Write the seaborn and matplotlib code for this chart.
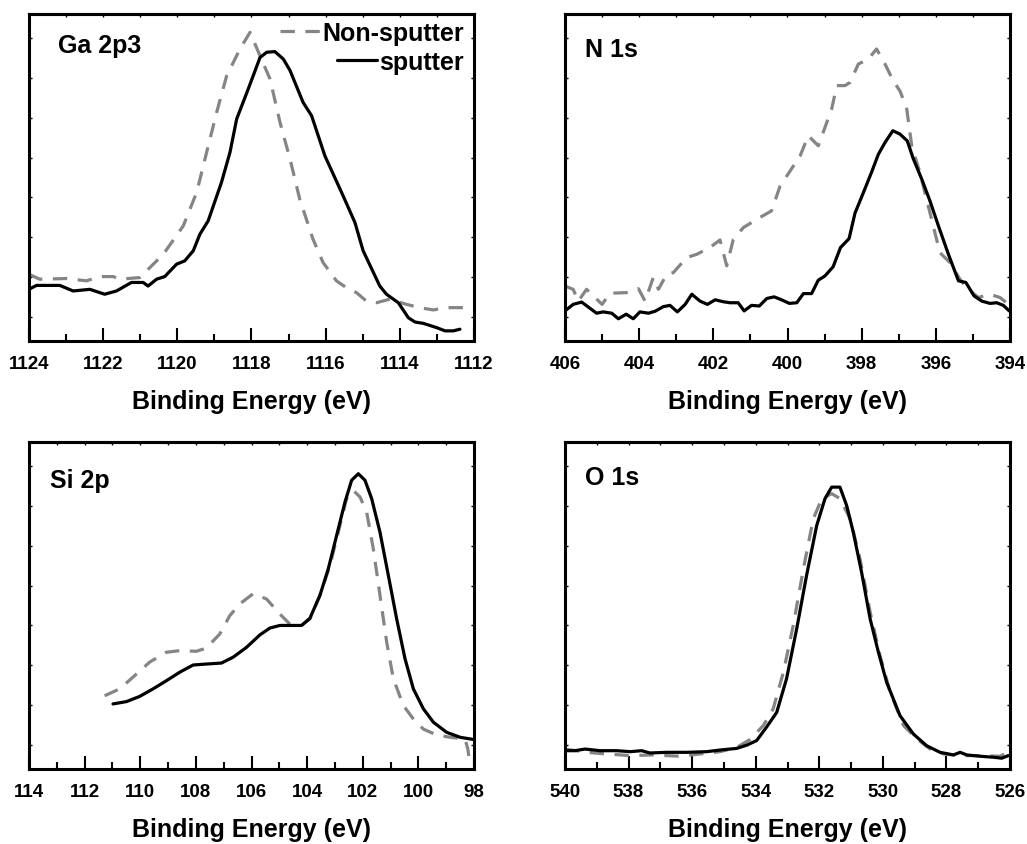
import numpy as np
import pandas as pd
import matplotlib
matplotlib.use("Agg")
import matplotlib.pyplot as plt
import seaborn as sns
from matplotlib.ticker import MultipleLocator
from matplotlib.lines import Line2D

# ---------------- data ----------------
ga_sp_x = [1124.00, 1123.80, 1123.17, 1122.81, 1122.36, 1121.96, 1121.64, 1121.24, 1120.92, 1120.79,
           1120.56, 1120.34, 1120.02, 1119.80, 1119.57, 1119.39, 1119.17, 1118.81, 1118.58, 1118.40,
           1118.09, 1117.77, 1117.59, 1117.37, 1117.14, 1116.96, 1116.61, 1116.38, 1116.02, 1115.53,
           1115.21, 1114.99, 1114.54, 1114.36, 1114.04, 1113.77, 1113.59, 1113.37, 1113.01, 1112.78,
           1112.56, 1112.38]
ga_sp_y = [15.8, 17.0, 17.0, 15.3, 15.8, 14.3, 15.3, 17.9, 17.9, 16.8,
           18.9, 19.7, 23.5, 24.5, 27.6, 32.7, 36.7, 48.5, 57.7, 67.9,
           77.0, 86.7, 88.3, 88.5, 86.2, 82.7, 73.0, 68.9, 56.6, 44.4,
           36.2, 27.6, 16.8, 14.3, 11.7, 7.1, 5.8, 5.4, 4.1, 3.1,
           3.1, 3.6]
ga_ns_x = [1124.00, 1123.71, 1122.99, 1122.45, 1122.09, 1121.73, 1121.55, 1121.01, 1120.79, 1120.38,
           1119.84, 1119.48, 1119.21, 1118.94, 1118.67, 1118.31, 1118.04, 1117.77, 1117.50, 1117.23,
           1116.96, 1116.70, 1116.34, 1116.07, 1115.71, 1115.44, 1115.17, 1114.90, 1114.63, 1114.27,
           1113.82, 1113.46, 1113.10, 1112.74, 1112.11]
ga_ns_y = [20.4, 18.9, 19.1, 18.4, 19.7, 19.7, 18.9, 19.4, 21.9, 26.5,
           35.2, 45.4, 57.7, 69.9, 81.1, 89.3, 94.4, 87.2, 80.1, 66.8,
           55.6, 43.4, 31.1, 24.0, 18.4, 16.3, 14.8, 12.2, 11.7, 12.8,
           11.2, 10.2, 9.5, 10.2, 10.2]

n_sp_x = [406.00, 405.78, 405.55, 405.15, 404.97, 404.74, 404.56, 404.35, 404.16, 403.98,
          403.75, 403.57, 403.35, 403.17, 402.97, 402.76, 402.58, 402.36, 402.16, 401.95,
          401.73, 401.55, 401.33, 401.17, 400.97, 400.76, 400.56, 400.36, 400.16, 399.95,
          399.75, 399.57, 399.35, 399.17, 398.99, 398.77, 398.57, 398.34, 398.18, 397.96,
          397.73, 397.55, 397.37, 397.16, 396.97, 396.77, 396.61, 396.38, 396.16, 395.93,
          395.66, 395.39, 395.19, 394.97, 394.76, 394.54, 394.36, 394.18, 394.02]
n_sp_y = [9.2, 11.2, 11.9, 8.5, 8.9, 8.5, 6.8, 8.2, 6.8, 8.9,
          8.5, 9.1, 10.5, 10.9, 8.9, 11.2, 14.3, 12.2, 11.2, 12.6,
          12.0, 11.7, 11.7, 9.2, 10.9, 10.7, 13.0, 13.5, 12.6, 11.5,
          11.7, 14.5, 14.5, 18.6, 19.9, 22.7, 28.6, 31.3, 39.1, 45.2,
          51.7, 57.1, 60.7, 64.3, 63.3, 61.2, 55.8, 49.5, 42.9, 35.2,
          26.5, 18.4, 17.9, 13.8, 12.2, 11.5, 11.7, 10.9, 9.2]
n_ns_x = [406.00, 405.78, 405.64, 405.42, 405.00, 404.79, 404.34, 404.02, 403.84, 403.62,
          403.48, 403.26, 403.08, 402.72, 402.45, 402.09, 401.82, 401.64, 401.46, 401.19,
          400.74, 400.43, 400.20, 399.93, 399.66, 399.44, 399.17, 398.81, 398.67, 398.45,
          398.31, 398.09, 397.82, 397.60, 397.37, 397.15, 396.97, 396.79, 396.65, 396.43,
          396.16, 395.89, 395.62, 395.35, 395.13, 394.85, 394.54, 394.27, 394.04]
n_ns_y = [16.8, 15.8, 12.2, 15.8, 11.2, 14.6, 14.8, 16.0, 12.2, 19.4,
          15.8, 20.4, 20.9, 25.5, 26.5, 28.6, 30.9, 23.0, 31.1, 34.7,
          37.8, 39.8, 47.4, 52.0, 56.6, 62.8, 59.7, 70.9, 78.1, 78.1,
          79.1, 84.7, 86.2, 89.3, 84.7, 79.6, 76.5, 71.4, 59.7, 51.5,
          39.3, 27.0, 24.0, 18.9, 15.8, 13.3, 14.3, 13.3, 11.2]

si_sp_x = [110.98, 110.50, 110.02, 109.54, 109.06, 108.58, 108.10, 107.62, 107.08, 106.66,
           106.18, 105.70, 105.34, 104.98, 104.50, 104.20, 103.90, 103.54, 103.24, 102.94,
           102.64, 102.40, 102.16, 101.92, 101.68, 101.38, 101.08, 100.78, 100.48, 100.18,
           99.82, 99.46, 98.98, 98.50, 98.00]
si_sp_y = [19.9, 20.6, 22.2, 24.5, 27.0, 29.6, 31.8, 32.1, 32.4, 34.2,
           37.2, 41.0, 43.1, 43.9, 43.9, 43.9, 46.1, 53.1, 61.2, 71.4,
           81.6, 88.3, 90.3, 88.3, 82.7, 72.4, 59.2, 45.9, 33.7, 24.5,
           18.4, 14.3, 11.2, 9.7, 9.0]
si_ns_x = [111.28, 110.74, 110.26, 109.66, 109.06, 108.58, 107.98, 107.62, 107.14, 106.78,
           106.42, 105.94, 105.46, 104.98, 104.62, 104.20, 103.90, 103.54, 103.18, 102.88,
           102.58, 102.34, 102.10, 101.86, 101.62, 101.38, 101.14, 100.90, 100.54, 100.18,
           99.82, 99.34, 98.86, 98.32, 98.22, 98.18]
si_ns_y = [22.4, 24.5, 28.1, 32.7, 35.7, 36.2, 36.0, 37.0, 41.3, 46.9,
           50.5, 53.6, 52.0, 47.4, 44.3, 43.9, 45.9, 53.1, 62.2, 72.4,
           82.7, 85.2, 83.2, 78.6, 67.3, 53.1, 38.8, 27.6, 19.4, 15.3,
           12.2, 10.4, 9.7, 9.2, 6.0, 3.5]

o_sp_x = [540.00, 539.69, 539.37, 538.90, 538.37, 537.95, 537.59, 537.33, 536.80, 536.17,
          535.54, 535.12, 534.60, 534.28, 533.97, 533.66, 533.34, 533.03, 532.71, 532.40,
          532.08, 531.82, 531.61, 531.35, 531.14, 530.93, 530.67, 530.40, 530.14, 529.88,
          529.46, 529.04, 528.62, 528.20, 527.78, 527.57, 527.36, 526.94, 526.52, 526.26,
          526.05]
o_sp_y = [5.6, 5.6, 6.1, 5.6, 5.6, 5.3, 5.6, 4.9, 5.1, 5.1,
          5.3, 5.8, 6.3, 7.3, 8.7, 12.8, 17.3, 27.6, 42.9, 59.2,
          74.5, 82.7, 86.2, 86.2, 80.6, 72.4, 60.2, 45.9, 35.7, 26.5,
          16.3, 10.7, 7.1, 5.1, 4.3, 5.1, 4.3, 3.9, 3.6, 3.3,
          4.1]
o_ns_x = [540.00, 539.32, 538.69, 537.95, 537.22, 536.38, 535.75, 535.12, 534.60, 534.18,
          533.76, 533.45, 533.13, 532.82, 532.50, 532.19, 531.92, 531.61, 531.35, 531.03,
          530.72, 530.40, 530.09, 529.77, 529.35, 528.93, 528.51, 528.09, 527.57, 526.94,
          526.32, 526.05]
o_ns_y = [6.1, 5.1, 4.6, 4.1, 4.3, 3.9, 4.6, 5.3, 6.6, 9.0,
          13.3, 18.4, 29.6, 43.9, 61.2, 76.5, 82.7, 84.2, 82.7, 76.5,
          64.3, 48.0, 34.7, 23.5, 13.3, 9.2, 6.1, 4.6, 4.1, 4.1,
          3.9, 5.1]

panel_names = ["Ga 2p3", "N 1s", "Si 2p", "O 1s"]
panel_xlims = [(1124, 1112), (406, 394), (114, 98), (540, 526)]
legend_labels = ["Non-sputter", "sputter"]
xlabel_text = "Binding Energy (eV)"

# ---------------- style ----------------
sns.set_style("ticks")
plt.rcParams["font.family"] = ["Liberation Sans", "DejaVu Sans"]
plt.rcParams["font.weight"] = "bold"
plt.rcParams["axes.labelweight"] = "bold"
plt.rcParams["text.color"] = "black"
plt.rcParams["axes.labelcolor"] = "black"
plt.rcParams["xtick.color"] = "black"
plt.rcParams["ytick.color"] = "black"
plt.rcParams["xtick.labelcolor"] = "black"
plt.rcParams["axes.edgecolor"] = "black"

GRAY = "#858585"
DASH = (0, (4.5, 3.3))
LW = 2.3

W, H = 1027, 845
aw, ah = 445, 327
corners = [(29, 15), (565, 15), (29, 443), (565, 443)]
label_pos = [(0.065, 0.884), (0.045, 0.872), (0.047, 0.862), (0.045, 0.872)]

series = [
    (ga_ns_x, ga_ns_y, ga_sp_x, ga_sp_y),
    (n_ns_x, n_ns_y, n_sp_x, n_sp_y),
    (si_ns_x, si_ns_y, si_sp_x, si_sp_y),
    (o_ns_x, o_ns_y, o_sp_x, o_sp_y),
]

fig = plt.figure(figsize=(W / 100, H / 100), dpi=100)

for i, (name, xlim, (nx, ny, sx, sy)) in enumerate(zip(panel_names, panel_xlims, series)):
    l, t = corners[i]
    ax = fig.add_axes([l / W, 1 - (t + ah) / H, aw / W, ah / H])
    df_ns = pd.DataFrame({"E": nx, "I": ny})
    df_sp = pd.DataFrame({"E": sx, "I": sy})
    sns.lineplot(data=df_ns, x="E", y="I", ax=ax, color=GRAY, linewidth=LW,
                 linestyle=DASH, sort=False, estimator=None, legend=False)
    sns.lineplot(data=df_sp, x="E", y="I", ax=ax, color="black", linewidth=LW,
                 sort=False, estimator=None, legend=False)
    ax.set_xlim(*xlim)
    ax.set_ylim(0, 100)
    ax.xaxis.set_major_locator(MultipleLocator(2))
    ax.xaxis.set_minor_locator(MultipleLocator(1))
    ax.tick_params(axis="x", which="major", direction="in", length=9.5, width=1.5,
                   pad=10, labelsize=13.5, bottom=True, top=False, color="black",
                   labelcolor="black")
    ax.tick_params(axis="x", which="minor", direction="in", length=5, width=1.5,
                   bottom=True, top=False, color="black")
    ax.set_yticks(np.arange(7.3, 100, 12.2))
    ax.tick_params(axis="y", direction="in", length=2, width=1, left=True, right=True,
                   labelleft=False, color="black")
    for s in ax.spines.values():
        s.set_linewidth(2.2)
        s.set_color("black")
    sec = ax.secondary_xaxis("top")
    sec.set_xticks(np.arange(min(xlim), max(xlim) + 1, 1))
    sec.tick_params(direction="in", length=2.5, width=1, labeltop=False, color="black")
    sec.spines["top"].set_linewidth(2.2)
    sec.spines["top"].set_color("black")
    for lab in ax.get_xticklabels():
        lab.set_fontweight("bold")
    ax.set_xlabel(xlabel_text, fontsize=18, fontweight="bold", labelpad=12, color="black")
    ax.set_ylabel("")
    ax.text(label_pos[i][0], label_pos[i][1], name, transform=ax.transAxes,
            fontsize=18, fontweight="bold", va="baseline", ha="left", color="black")

    if i == 0:
        h1 = Line2D([], [], color=GRAY, linewidth=LW, linestyle=DASH)
        h2 = Line2D([], [], color="black", linewidth=LW)
        prop = {"size": 18, "weight": "bold"}
        leg1 = ax.legend([h1], [legend_labels[0]], loc="upper right",
                         bbox_to_anchor=(0.977, 0.978), frameon=False, prop=prop,
                         handlelength=1.6, handletextpad=0.1, borderpad=0, borderaxespad=0,
                         labelcolor="black")
        ax.add_artist(leg1)
        ax.legend([h2], [legend_labels[1]], loc="upper right",
                  bbox_to_anchor=(0.977, 0.89), frameon=False, prop=prop,
                  handlelength=1.6, handletextpad=0.1, borderpad=0, borderaxespad=0,
                  labelcolor="black")

fig.savefig("out.png", dpi=100)
